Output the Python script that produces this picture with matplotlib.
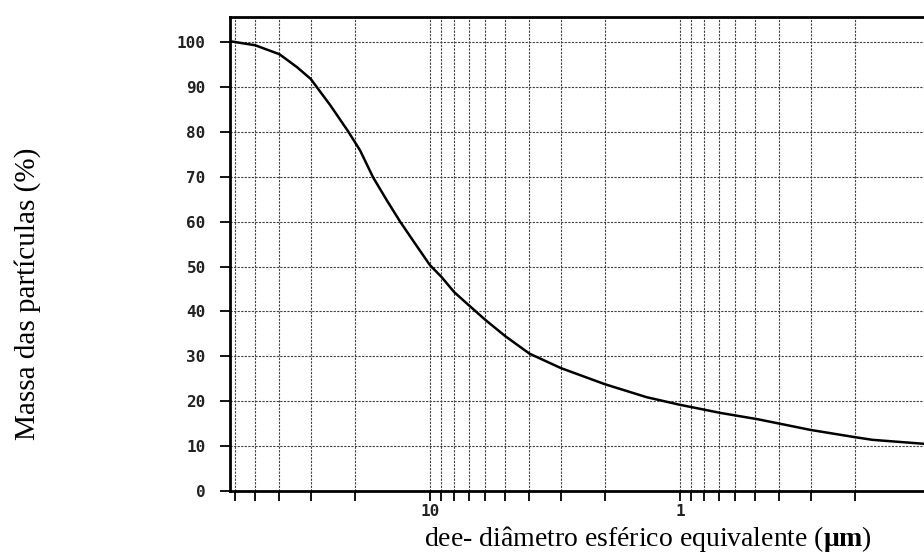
import matplotlib
matplotlib.use('Agg')
import matplotlib.pyplot as plt
from matplotlib.ticker import FixedLocator, NullFormatter

# diametro esferico equivalente (um) e massa acumulada (%)
diametro = [63.0, 50, 40, 34, 30, 25.1, 21.3, 19.05, 16.9, 14.9, 13.2, 11.5,
            10, 9, 8, 7, 6, 5, 4, 3, 2, 1.36, 1.0, 0.83, 0.69, 0.49, 0.30,
            0.20, 0.17, 0.105]
massa = [100.2, 99.3, 97.3, 94.4, 91.8, 86.0, 80.2, 75.9, 69.9, 64.8, 60.1, 55.2,
         50.3, 47.7, 44.3, 41.4, 38.1, 34.5, 30.6, 27.4, 23.8, 20.9, 19.2, 18.3,
         17.4, 16.0, 13.6, 12.0, 11.4, 10.5]

yticks = [0, 10, 20, 30, 40, 50, 60, 70, 80, 90, 100]
xmajor = [10, 1]
xminor = [60, 50, 40, 30, 20, 9, 8, 7, 6, 5, 4, 3, 2,
          0.9, 0.8, 0.7, 0.6, 0.5, 0.4, 0.3, 0.2]

fig = plt.figure(figsize=(9.24, 5.54), dpi=100)
ax = fig.add_axes([230/924, 63/554, 700/924, 474/554])

ax.plot(diametro, massa, color='black', lw=1.8, solid_joinstyle='round')

ax.set_xscale('log')
ax.set_xlim(63.1, 0.1)
ax.set_ylim(0, 105.6)

ax.xaxis.set_major_locator(FixedLocator(xmajor))
ax.xaxis.set_minor_locator(FixedLocator(xminor))
ax.xaxis.set_minor_formatter(NullFormatter())
ax.set_xticklabels(['10', '1'])
ax.set_yticks(yticks)

grid_kw = dict(color='0.25', lw=0.8, linestyle=(0, (2, 1.2)))
ax.grid(True, which='both', axis='x', **grid_kw)
ax.grid(True, which='major', axis='y', **grid_kw)

mono = 'DejaVu Sans Mono'
ax.tick_params(axis='both', which='both', direction='out', length=7.5,
               width=1.3, color='black')
ax.tick_params(axis='y', pad=10)
ax.tick_params(axis='x', pad=2)
for lab in ax.get_xticklabels() + ax.get_yticklabels():
    lab.set_family(mono)
    lab.set_fontsize(11.5)
    lab.set_fontweight('bold')
    lab.set_color('#222222')

for s in ['left', 'bottom', 'top']:
    ax.spines[s].set_linewidth(2)
ax.spines['right'].set_visible(False)

serif = 'Liberation Serif'
plt.rcParams['mathtext.fontset'] = 'custom'
plt.rcParams['mathtext.rm'] = serif
plt.rcParams['mathtext.bf'] = serif + ':bold'

fig.text(28/924, 1 - 294/554, 'Massa das partículas (%)', rotation=90,
         ha='center', va='center', family=serif, fontsize=21)
fig.text(648/924, 1 - 539/554,
         r'dee- diâmetro esférico equivalente ($\mathbf{\mu m}$)',
         ha='center', va='center', family=serif, fontsize=20)

fig.savefig('out.png', dpi=100)
